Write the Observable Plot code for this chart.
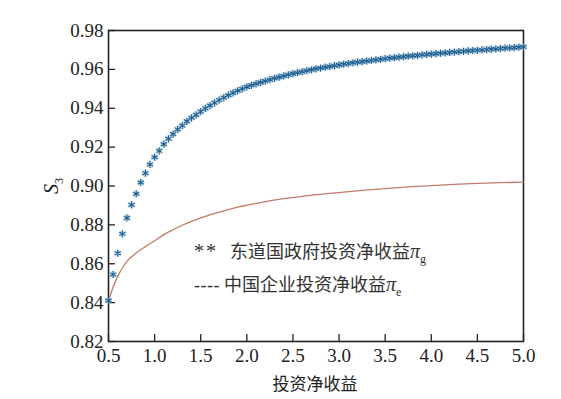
<!DOCTYPE html>
<html>
<head>
<meta charset="utf-8">
<script src="https://cdn.jsdelivr.net/npm/d3@7"></script>
<script src="https://cdn.jsdelivr.net/npm/@observablehq/plot@0.6"></script>
<style>
  html, body { margin: 0; padding: 0; background: #fff; }
  #wrap { position: relative; width: 561px; height: 399px; }
  .legend { position: absolute; font-family: "Noto Sans CJK SC", sans-serif; font-size: 18px; color: #333; white-space: nowrap; }
  .legend .sym { display: inline-block; }
  .legend i { font-size: 20px; }
  .legend sub { font-size: 12px; font-style: normal; }
</style>
</head>
<body>
<div id="wrap"></div>
<script>
// x values (投资净收益)
const govX = d3.range(0, 91).map(i => +(0.5 + i * 0.05).toFixed(2));
// 东道国政府投资净收益 π_g (markers, one per 0.05)
const govY = [
  0.8411, 0.8545, 0.8654, 0.8754, 0.8836, 0.8903, 0.8960, 0.9018, 0.9066, 0.9111,
  0.9148, 0.9181, 0.9215, 0.9243, 0.9267, 0.9291, 0.9311, 0.9333, 0.9351, 0.9366,
  0.9383, 0.9399, 0.9414, 0.9428, 0.9442, 0.9455, 0.9467, 0.9479, 0.9490, 0.9500,
  0.9510, 0.9518, 0.9526, 0.9533, 0.9540, 0.9547, 0.9554, 0.9560, 0.9566, 0.9572,
  0.9578, 0.9583, 0.9588, 0.9593, 0.9598, 0.9603, 0.9607, 0.9611, 0.9615, 0.9619,
  0.9623, 0.9627, 0.9630, 0.9634, 0.9637, 0.9640, 0.9643, 0.9646, 0.9649, 0.9652,
  0.9655, 0.9658, 0.9660, 0.9663, 0.9665, 0.9668, 0.9670, 0.9672, 0.9675, 0.9677,
  0.9679, 0.9681, 0.9683, 0.9685, 0.9687, 0.9689, 0.9691, 0.9693, 0.9695, 0.9697,
  0.9698, 0.9700, 0.9702, 0.9704, 0.9705, 0.9707, 0.9709, 0.9710, 0.9712, 0.9714,
  0.9716
];
// 中国企业投资净收益 π_e (line)
const entX = [0.50, 0.55, 0.60, 0.65, 0.70, 0.80, 0.90, 1.00, 1.10, 1.20, 1.30, 1.40, 1.50, 1.60, 1.70, 1.80, 1.90, 2.00, 2.20, 2.40, 2.60, 2.80, 3.00, 3.25, 3.50, 3.75, 4.00, 4.25, 4.50, 4.75, 5.00];
const entY = [0.8405, 0.8480, 0.8535, 0.8578, 0.8612, 0.8655, 0.8688, 0.8718, 0.8750, 0.8775, 0.8798, 0.8818, 0.8836, 0.8852, 0.8866, 0.8879, 0.8891, 0.8901, 0.8920, 0.8935, 0.8947, 0.8957, 0.8966, 0.8977, 0.8987, 0.8995, 0.9002, 0.9008, 0.9013, 0.9017, 0.9020];
const xTicks = [0.5, 1.0, 1.5, 2.0, 2.5, 3.0, 3.5, 4.0, 4.5, 5.0];
const yTicks = [0.82, 0.84, 0.86, 0.88, 0.90, 0.92, 0.94, 0.96, 0.98];

// pick an installed serif font
function hasFont(name) {
  const c = document.createElement("canvas").getContext("2d");
  const s = "0.98 1.5 Sπ mmmwwwiii";
  let diff = false;
  for (const base of ["monospace", "sans-serif", "serif"]) {
    c.font = "40px " + base;
    const w0 = c.measureText(s).width;
    c.font = `40px "${name}", ${base}`;
    if (c.measureText(s).width !== w0) diff = true;
  }
  return diff;
}
const serifCandidates = ["Liberation Serif", "Times New Roman", "Tinos", "DejaVu Serif", "Noto Serif", "FreeSerif", "Nimbus Roman", "serif"];
const SERIF = serifCandidates.find(f => f === "serif" || hasFont(f));
const serifStack = `"${SERIF}", "Liberation Serif", "DejaVu Serif", serif`;

const gov = govX.map((x, i) => ({x, y: govY[i]}));
const ent = entX.map((x, i) => ({x, y: entY[i]}));

const chart = Plot.plot({
  width: 561,
  height: 399,
  marginLeft: 108,
  marginRight: 38,
  marginTop: 30,
  marginBottom: 58,
  style: { fontFamily: serifStack, fontSize: "18px", color: "#222", background: "#fff" },
  x: { domain: [0.5, 5.0] },
  y: { domain: [0.82, 0.98] },
  marks: [
    Plot.frame({ stroke: "#222", strokeWidth: 1.6 }),
    Plot.axisX({ ticks: xTicks, tickFormat: d3.format(".1f"), tickSize: -7, tickPadding: 14, label: null, fontSize: 19, strokeWidth: 1.3 }),
    Plot.axisY({ ticks: yTicks, tickFormat: d3.format(".2f"), tickSize: -7, tickPadding: 12, label: null, fontSize: 19, strokeWidth: 1.3 }),
    Plot.line(ent, { x: "x", y: "y", stroke: "#c27a6a", strokeWidth: 1.3, curve: "monotone-x" }),
    Plot.dot(gov, { x: "x", y: "y", r: 3.6, fill: "#a8cbe2", fillOpacity: 0.55, stroke: "none" }),
    Plot.dot(gov, { x: "x", y: "y", symbol: "asterisk", r: 3.4, stroke: "#1f5f90", strokeWidth: 1.1 })
  ]
});
const wrap = document.getElementById("wrap");
wrap.appendChild(chart);
d3.select(chart).selectAll("text").style("font-family", serifStack);

// axis titles
const svg = d3.select(chart);
svg.append("text")
  .attr("x", 315).attr("y", 390)
  .attr("text-anchor", "middle")
  .style("font-family", "'Noto Sans CJK SC', sans-serif")
  .style("font-size", "17px").attr("fill", "#222")
  .text("投资净收益");
const yl = svg.append("text")
  .attr("transform", "translate(58,186) rotate(-90)")
  .attr("text-anchor", "middle")
  .style("font-family", serifStack)
  .style("font-size", "20px").attr("fill", "#222");
yl.append("tspan").style("font-style", "italic").text("S");
yl.append("tspan").attr("dy", 5).style("font-size", "12px").text("3");

// legend
const leg = document.createElement("div");
leg.className = "legend";
leg.style.left = "194px";
leg.style.top = "237px";
leg.innerHTML =
  `<div style="height:33px"><span class="sym" style="width:36px;font-size:20px;letter-spacing:2px;font-family:${serifStack.replace(/"/g, "'")}">**</span>东道国政府投资净收益<i style="font-family:${serifStack.replace(/"/g, "'")}">π</i><sub style="font-family:${serifStack.replace(/"/g, "'")}">g</sub></div>` +
  `<div style="height:30px"><span class="sym" style="width:30px;font-size:18px;letter-spacing:0.5px;font-family:${serifStack.replace(/"/g, "'")}">----</span>中国企业投资净收益<i style="font-family:${serifStack.replace(/"/g, "'")}">π</i><sub style="font-family:${serifStack.replace(/"/g, "'")}">e</sub></div>`;
wrap.appendChild(leg);
</script>
</body>
</html>
